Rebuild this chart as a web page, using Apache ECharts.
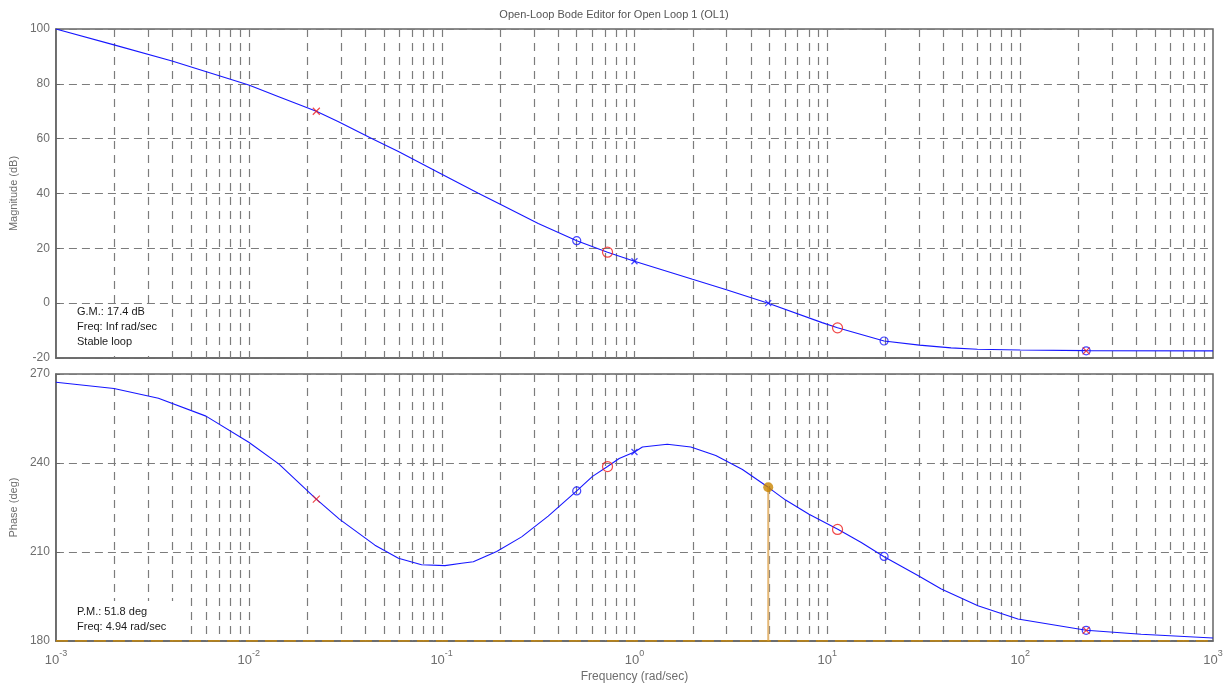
<!DOCTYPE html>
<html>
<head>
<meta charset="utf-8">
<title>Open-Loop Bode Editor</title>
<script src="https://cdn.jsdelivr.net/npm/echarts@6/dist/echarts.min.js"></script>
<style>
  html, body { margin: 0; padding: 0; background: #fff; }
  #chart { width: 1228px; height: 684px; }
</style>
</head>
<body>
<div id="chart"></div>
<script>
// Open-loop frequency response samples (rad/sec)
const freqMag = [0.001, 0.002, 0.004, 0.01, 0.0143, 0.0224, 0.0292, 0.0434, 0.0597, 0.098,
  0.155, 0.205, 0.317, 0.502, 0.725, 1.0, 2.0, 2.97, 4.94, 9.4, 11.3, 19.7, 30, 43.8, 60, 100, 220, 1000];
const magDb = [100, 94.2, 88.3, 79.6, 75.3, 70.0, 66.2, 60.1, 55.3, 47.4,
  40.1, 35.8, 29.1, 22.8, 18.6, 15.3, 8.7, 5.0, 0.0, -7.1, -9.0, -13.8, -15.3, -16.3, -16.8, -17.1, -17.3, -17.4];

const freqPh = [0.001, 0.002, 0.0034, 0.006, 0.01, 0.0143, 0.0224, 0.0295, 0.0451, 0.0597,
  0.0787, 0.104, 0.127, 0.146, 0.193, 0.26, 0.357, 0.502, 0.606, 0.725,
  0.833, 1.0, 1.1, 1.48, 1.96, 2.64, 3.63, 4.94, 6.08, 8.04,
  11.4, 15.0, 19.6, 29.5, 39, 60.4, 97.3, 220, 424, 1000];
const phaseDeg = [267.2, 265.1, 261.8, 255.8, 247.0, 239.7, 227.8, 221.1, 212.3, 207.9,
  205.7, 205.4, 206.2, 206.7, 210.2, 215.1, 222.1, 230.6, 235.5, 238.8,
  241.5, 243.7, 245.4, 246.3, 245.4, 242.5, 237.8, 231.8, 227.5, 222.7,
  217.6, 213.2, 208.5, 202.1, 197.5, 191.9, 187.4, 183.6, 182.3, 181.0];

// Compensator / plant pole-zero markers
const redXFreq = [0.0224, 220];
const redXMag = [70.0, -17.4];
const redXPh = [227.8, 183.6];

const blueOFreq = [0.502, 19.7, 220];
const blueOMag = [22.8, -13.8, -17.4];
const blueOPh = [230.6, 208.5, 183.6];

const redOFreq = [0.725, 11.3];
const redOMag = [18.6, -9.0];
const redOPh = [238.8, 217.6];

const blueXMagFreq = [1.0, 4.94];
const blueXMag = [15.3, 0.0];
const blueXPhFreq = [1.0];
const blueXPh = [243.7];

// Phase margin
const pmFreq = 4.94;
const pmPhase = 231.8;
const phaseRef = 180;

// Axis tick settings
const magTicks = { min: -20, max: 100, step: 20 };
const phTicks = { min: 180, max: 270, step: 30 };
const freqRange = { min: 0.001, max: 1000 };
const decades = [0.001, 0.01, 0.1, 1, 10, 100];
const gridMultipliers = [2, 3, 4, 5, 6, 7, 8, 9, 10];

// Vertical grid positions: 2..10 times each decade
const gridFreqs = [];
decades.forEach(d => gridMultipliers.forEach(k => {
  const f = d * k;
  if (f < freqRange.max * 0.999) gridFreqs.push(f);
}));

const pairs = (xs, ys) => xs.map((x, i) => [x, ys[i]]);

const FONT = 'Liberation Sans, Arial, Helvetica, sans-serif';
const GRID_COLOR = '#7c7c7c';
const LABEL_COLOR = '#6e6e6e';
const BLUE = '#1616ff';
const RED = '#ee1c1c';
const X_PATH = 'path://M0,0L10,10M10,0L0,10';

const hDash = { color: GRID_COLOR, width: 1.2, type: [8, 5] };

// Dashed vertical grid lines drawn through the log frequency axis
function verticalGridSeries(axisIdx, t) {
  return {
    type: 'custom',
    xAxisIndex: axisIdx,
    yAxisIndex: axisIdx,
    data: gridFreqs.map(f => [f]),
    encode: { x: 0 },
    silent: true,
    z: 1,
    renderItem: (params, api) => {
      const f = api.value(0);
      const p0 = api.coord([f, t.max]);
      const p1 = api.coord([f, t.min]);
      const x = Math.round(p0[0]) + 0.5;
      return {
        type: 'line',
        shape: { x1: x, y1: p0[1], x2: x, y2: p1[1] },
        style: { stroke: GRID_COLOR, lineWidth: 1.2, lineDash: [8, 6] }
      };
    }
  };
}

function xAxisFor(idx, showLabels) {
  return {
    type: 'log',
    logBase: 10,
    gridIndex: idx,
    min: freqRange.min,
    max: freqRange.max,
    axisLine: { show: true, onZero: false, lineStyle: { color: '#666', width: 1.5 } },
    axisTick: { show: false },
    splitLine: { show: false },
    axisLabel: showLabels ? {
      show: true,
      margin: 8,
      formatter: v => '{b|10}{s|' + Math.round(Math.log10(v)) + '}',
      rich: {
        b: { fontFamily: FONT, fontSize: 13, color: LABEL_COLOR, verticalAlign: 'bottom', lineHeight: 18 },
        s: { fontFamily: FONT, fontSize: 9, color: LABEL_COLOR, verticalAlign: 'top', lineHeight: 18, padding: [0, 0, 9, 0] }
      }
    } : { show: false },
    name: showLabels ? 'Frequency (rad/sec)' : '',
    nameLocation: 'middle',
    nameGap: 30,
    nameTextStyle: { fontFamily: FONT, fontSize: 12, color: LABEL_COLOR }
  };
}

function yAxisFor(idx, t, name) {
  return {
    type: 'value',
    gridIndex: idx,
    min: t.min,
    max: t.max,
    interval: t.step,
    axisLine: { show: true, onZero: false, lineStyle: { color: '#666', width: 1.5 } },
    axisTick: { show: true, inside: true, length: 4, lineStyle: { color: '#666' } },
    splitLine: { show: true, lineStyle: hDash },
    axisLabel: { fontFamily: FONT, fontSize: 12, color: LABEL_COLOR, margin: 6 },
    name: name,
    nameLocation: 'middle',
    nameRotate: 90,
    nameGap: 30,
    nameTextStyle: { fontFamily: FONT, fontSize: 11, color: LABEL_COLOR }
  };
}

function markerSeries(xi, yi, xs, ys, kind, color, size) {
  const isX = kind === 'x';
  return {
    type: 'scatter',
    xAxisIndex: xi,
    yAxisIndex: yi,
    data: pairs(xs, ys),
    symbol: isX ? X_PATH : 'circle',
    symbolSize: size,
    itemStyle: { color: 'rgba(0,0,0,0)', borderColor: color, borderWidth: 1.2 },
    silent: true,
    z: 5
  };
}

const option = {
  animation: false,
  backgroundColor: '#fff',
  title: {
    text: 'Open-Loop Bode Editor for Open Loop 1 (OL1)',
    left: 'center',
    top: 4,
    textStyle: { fontFamily: FONT, fontSize: 11, fontWeight: 'normal', color: '#555' }
  },
  grid: [
    { left: 54, right: 15, top: 29, height: 329, show: true, borderColor: '#666', borderWidth: 1.5 },
    { left: 54, right: 15, top: 374, height: 267, show: true, borderColor: '#666', borderWidth: 1.5 }
  ],
  xAxis: [xAxisFor(0, false), xAxisFor(1, true)],
  yAxis: [yAxisFor(0, magTicks, 'Magnitude (dB)'), yAxisFor(1, phTicks, 'Phase (deg)')],
  graphic: [
    // white panels behind the stability readouts
    { type: 'rect', left: 74, top: 306, silent: true, z: 2, shape: { width: 92, height: 50 }, style: { fill: '#fff' } },
    { type: 'rect', left: 74, top: 601, silent: true, z: 2, shape: { width: 100, height: 38 }, style: { fill: '#fff' } },
    {
      type: 'text', left: 77, top: 304, silent: true, z: 10,
      style: { text: 'G.M.: 17.4 dB\nFreq: Inf rad/sec\nStable loop', font: '11px ' + FONT, lineHeight: 15, fill: '#1a1a1a' }
    },
    {
      type: 'text', left: 77, top: 604, silent: true, z: 10,
      style: { text: 'P.M.: 51.8 deg\nFreq: 4.94 rad/sec', font: '11px ' + FONT, lineHeight: 15, fill: '#1a1a1a' }
    }
  ],
  series: [
    verticalGridSeries(0, magTicks),
    verticalGridSeries(1, phTicks),
    {
      name: 'Magnitude',
      type: 'line',
      xAxisIndex: 0, yAxisIndex: 0,
      data: pairs(freqMag, magDb),
      showSymbol: false,
      lineStyle: { color: BLUE, width: 1.1 },
      z: 3
    },
    {
      name: 'Phase',
      type: 'line',
      xAxisIndex: 1, yAxisIndex: 1,
      data: pairs(freqPh, phaseDeg),
      showSymbol: false,
      lineStyle: { color: BLUE, width: 1.1 },
      z: 3
    },
    {
      name: 'Reference',
      type: 'line',
      xAxisIndex: 1, yAxisIndex: 1,
      data: [[freqRange.min, phaseRef], [freqRange.max, phaseRef]],
      showSymbol: false,
      lineStyle: { color: '#d08a00', width: 1.5, type: [12, 7] },
      z: 12
    },
    {
      name: 'PM stem',
      type: 'line',
      xAxisIndex: 1, yAxisIndex: 1,
      data: [[pmFreq, phaseRef], [pmFreq, pmPhase]],
      showSymbol: false,
      lineStyle: { color: '#e4b775', width: 2 },
      z: 4
    },
    {
      name: 'PM point',
      type: 'scatter',
      xAxisIndex: 1, yAxisIndex: 1,
      data: [[pmFreq, pmPhase]],
      symbol: 'circle',
      symbolSize: 10,
      itemStyle: { color: '#c98500' },
      z: 6
    },
    markerSeries(0, 0, blueOFreq, blueOMag, 'o', BLUE, 8),
    markerSeries(0, 0, redOFreq, redOMag, 'o', RED, 10),
    markerSeries(0, 0, redXFreq, redXMag, 'x', RED, 7),
    markerSeries(0, 0, blueXMagFreq, blueXMag, 'x', BLUE, 6),
    markerSeries(1, 1, blueOFreq, blueOPh, 'o', BLUE, 8),
    markerSeries(1, 1, redOFreq, redOPh, 'o', RED, 10),
    markerSeries(1, 1, redXFreq, redXPh, 'x', RED, 7),
    markerSeries(1, 1, blueXPhFreq, blueXPh, 'x', BLUE, 6)
  ]
};

const chart = echarts.init(document.getElementById('chart'), null, { renderer: 'canvas' });
chart.setOption(option);
</script>
</body>
</html>
